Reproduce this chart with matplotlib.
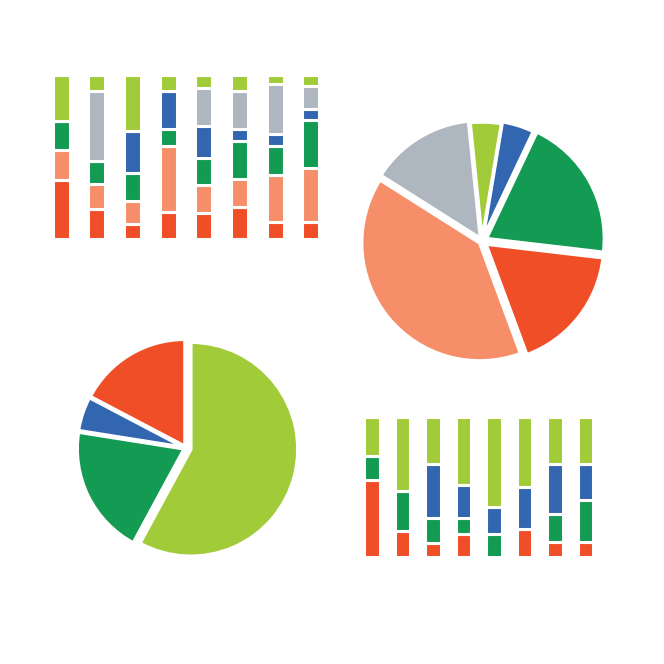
import matplotlib
matplotlib.use("Agg")
import matplotlib.pyplot as plt
import numpy as np

RED = "#F04E27"
SALMON = "#F68F69"
GREEN = "#139A53"
BLUE = "#3366B0"
GRAY = "#AEB6C0"
LIME = "#A2CB3A"

# top-left stacked bars (bottom to top: red, salmon, green, blue, gray, lime)
tl_red = [177, 89, 46, 80, 77, 95, 50, 50]
tl_salmon = [88, 75, 68, 197, 83, 85, 140, 162]
tl_green = [85, 68, 83, 49, 80, 111, 86, 141]
tl_blue = [0, 0, 125, 113, 95, 35, 37, 35]
tl_gray = [0, 207, 0, 0, 114, 113, 149, 67]
tl_lime = [138, 49, 166, 49, 39, 49, 26, 33]

# bottom-right stacked bars (bottom to top: red, green, blue, lime)
br_red = [229, 76, 42, 69, 0, 83, 46, 46]
br_green = [72, 121, 74, 46, 68, 0, 81, 123]
br_blue = [0, 0, 162, 98, 81, 124, 149, 107]
br_lime = [117, 221, 140, 205, 269, 211, 142, 142]

# top-right pie
tr_values = [17.5, 19.8, 4.4, 4.25, 14.4, 39.6]
tr_colors = [RED, GREEN, BLUE, LIME, GRAY, SALMON]

# bottom-left pie
bl_values = [17.3, 5.2, 19.6, 57.9]
bl_colors = [RED, BLUE, GREEN, LIME]

W = H = 664
fig = plt.figure(figsize=(6.64, 6.64), dpi=100)


def px_axes(left, top, width, height):
    return fig.add_axes([left / W, 1 - (top + height) / H, width / W, height / H])


def stacked(ax, series, colors, width):
    x = np.arange(len(series[0]))
    bottom = np.zeros(len(x))
    for vals, c in zip(series, colors):
        vals = np.array(vals, dtype=float)
        ax.bar(x, vals, width, bottom=bottom, color=c, edgecolor="white", linewidth=2.2)
        bottom += vals
    ax.set_xlim(-0.5, len(x) - 0.5)
    ax.set_ylim(0, bottom.max())
    ax.axis("off")


# top-left bars
sp = 35.7
ax1 = px_axes(61 - sp / 2, 75, 8 * sp, 164)
stacked(ax1, [tl_red, tl_salmon, tl_green, tl_blue, tl_gray, tl_lime],
        [RED, SALMON, GREEN, BLUE, GRAY, LIME], 17 / sp)

# bottom-right bars
sp2 = 30.5
ax2 = px_axes(372 - sp2 / 2, 416.5, 8 * sp2, 140.5)
stacked(ax2, [br_red, br_green, br_blue, br_lime],
        [RED, GREEN, BLUE, LIME], 15.5 / sp2)

# top-right pie
ax3 = px_axes(482 - 140, 241 - 140, 280, 280)
ax3.pie(tr_values, colors=tr_colors, startangle=-69.7, counterclock=True,
        radius=1.18, explode=[0.05, 0.05, 0.03, 0.01, 0.03, 0.03],
        wedgeprops=dict(edgecolor="white", linewidth=2.5))
ax3.set_xlim(-1.4, 1.4)
ax3.set_ylim(-1.4, 1.4)
ax3.set_aspect("equal")
ax3.axis("off")

# bottom-left pie
ax4 = px_axes(186 - 125, 448 - 125, 250, 250)
ax4.pie(bl_values, colors=bl_colors, startangle=90, counterclock=True,
        radius=1.07, explode=[0.02, 0.02, 0.02, 0.05],
        wedgeprops=dict(edgecolor="white", linewidth=2.5))
ax4.set_xlim(-1.25, 1.25)
ax4.set_ylim(-1.25, 1.25)
ax4.set_aspect("equal")
ax4.axis("off")

fig.savefig("out.png", dpi=100, facecolor="white")
